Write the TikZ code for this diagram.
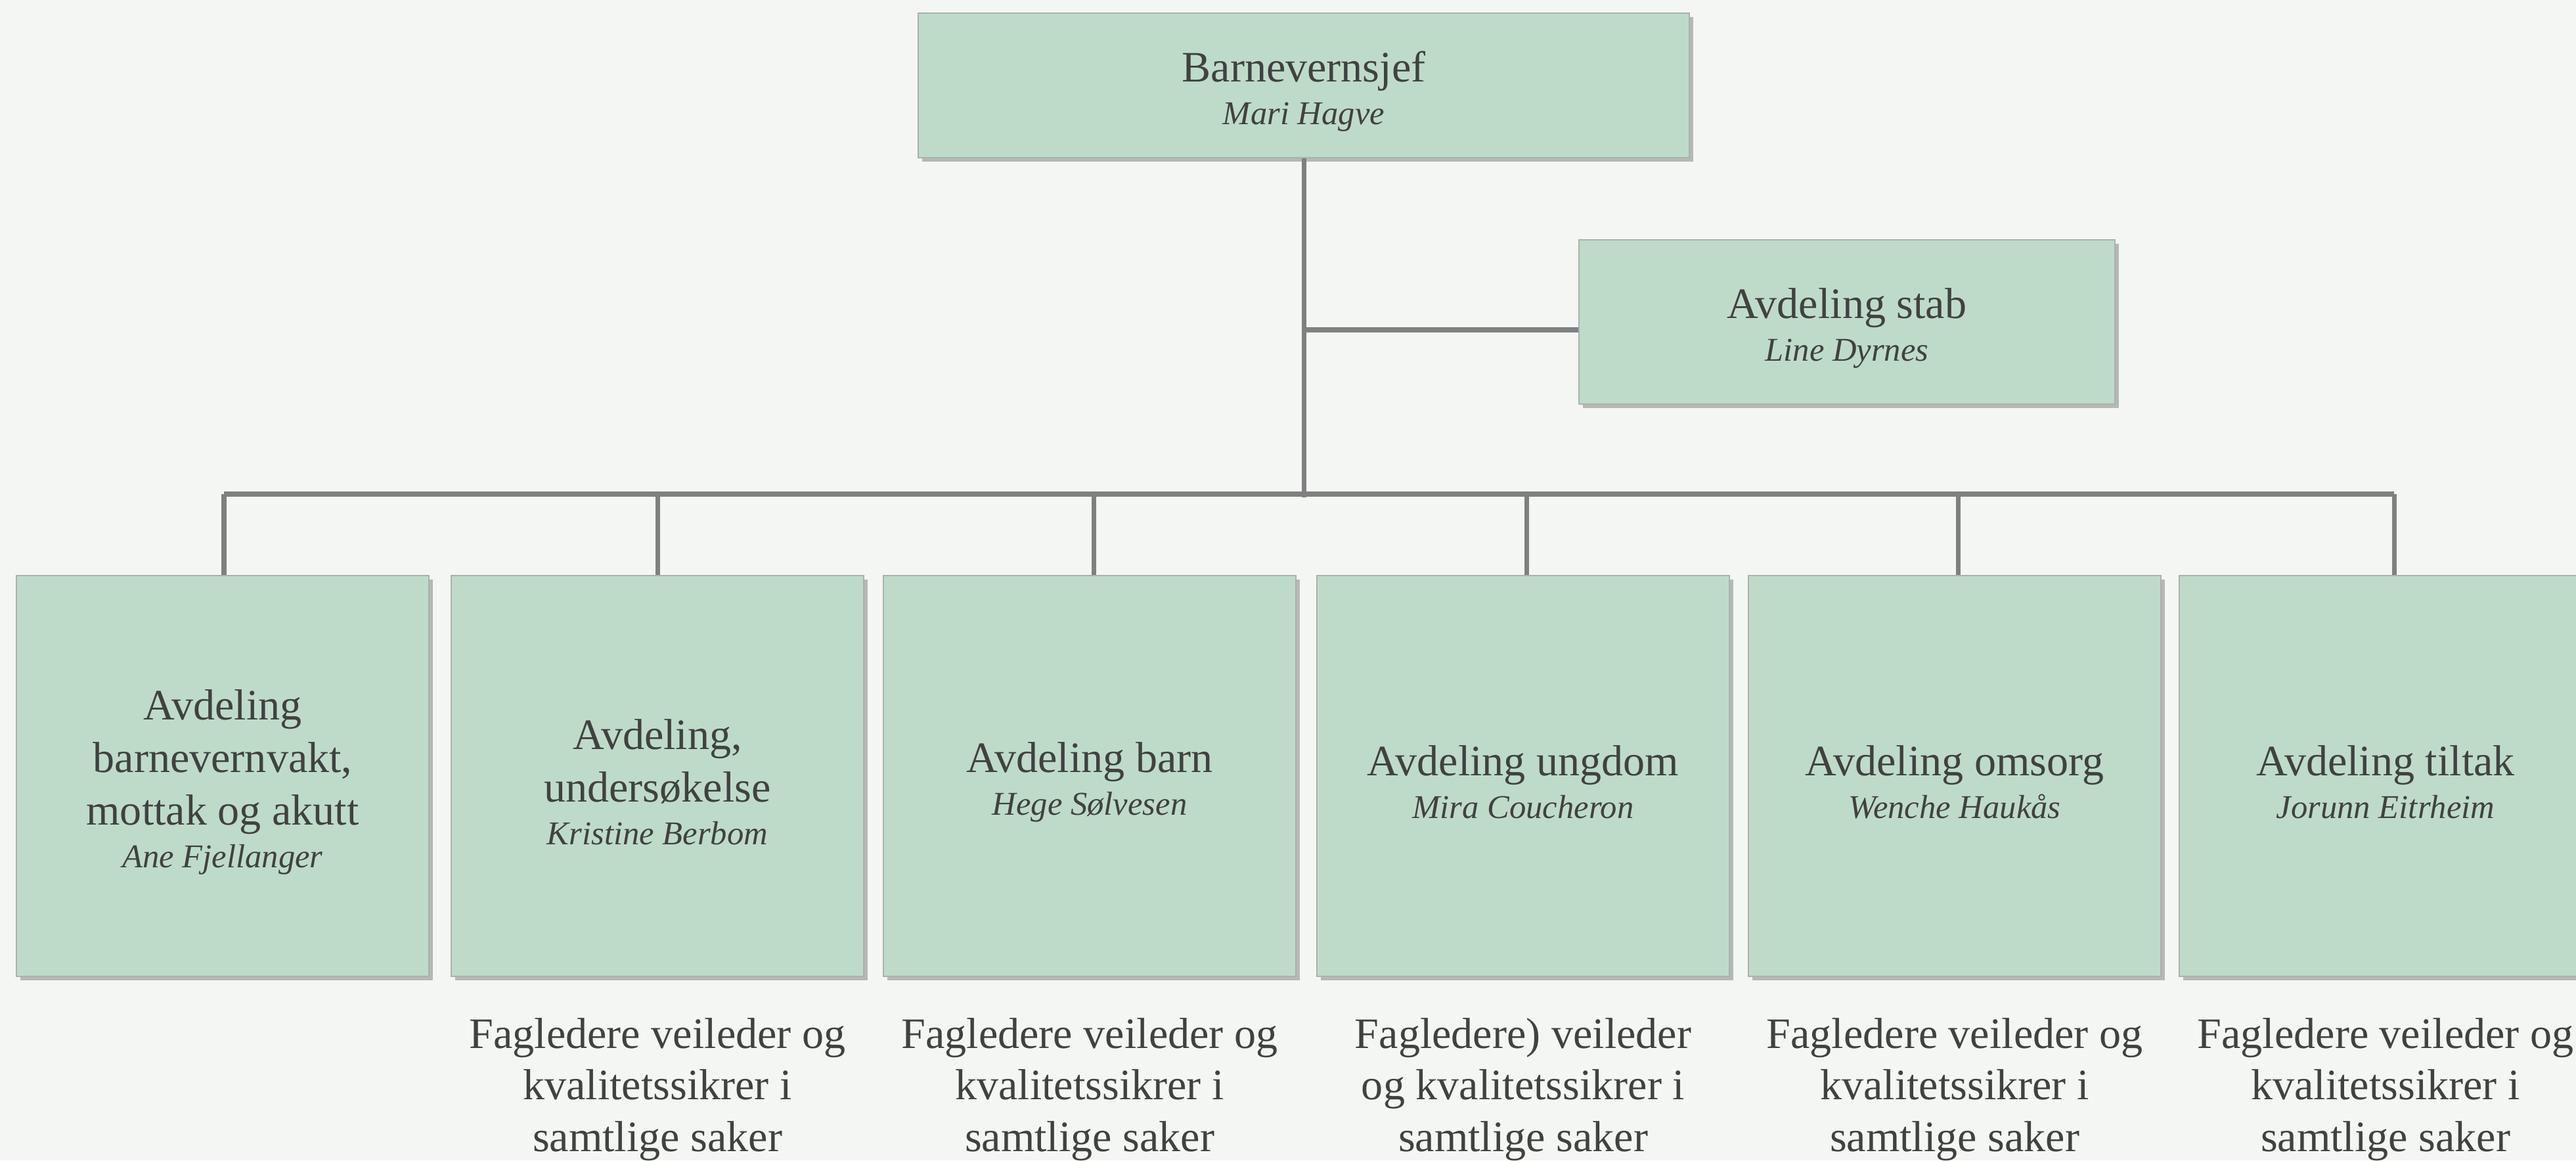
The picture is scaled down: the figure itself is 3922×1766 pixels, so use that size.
\documentclass[tikz,border=0pt]{standalone}
\usepackage{fontspec}
\setmainfont{Liberation Serif}
\usetikzlibrary{calc}
\usetikzlibrary{shadows}

\definecolor{boksgronn}{RGB}{190,219,201}
\definecolor{bakgrunn}{RGB}{244,246,243}
\definecolor{tekstgraa}{RGB}{64,66,64}
\definecolor{linjegraa}{RGB}{128,128,128}
\definecolor{kantgraa}{RGB}{170,178,173}

\tikzset{
    enhet/.style={draw=kantgraa, line width=0.6pt, fill=boksgronn, text=tekstgraa,
        align=center, inner sep=0pt, font=\fontsize{18.8}{22.8}\selectfont,
        drop shadow={shadow xshift=0.6mm, shadow yshift=-0.6mm, fill=black, opacity=0.25}},
    avd/.style={enhet, minimum width=6.28cm, minimum height=6.1cm},
    fag/.style={text=tekstgraa, align=center, font=\fontsize{18.8}{22.4}\selectfont},
    linje/.style={draw=linjegraa, line width=2pt}
}
\newcommand{\topp}{\rule{0pt}{18.5pt}}
\newcommand{\leder}[1]{\\[-4.3pt]{\fontsize{14.4}{17}\selectfont\itshape #1}}

\begin{document}
\begin{tikzpicture}[x=0.01cm, y=-0.01cm]
    \useasboundingbox[fill=bakgrunn] (0,0) rectangle (3922,1766);

    \node[enhet, minimum width=11.73cm, minimum height=2.2cm] (sjef) at (1985,130) {\topp Barnevernsjef\leder{Mari Hagve}};
    \node[enhet, minimum width=8.15cm, minimum height=2.5cm] (stab) at (2812,490) {\topp Avdeling stab\leder{Line Dyrnes}};

    \node[avd] (vakt) at (339,1181) {\topp Avdeling\\barnevernvakt,\\mottak og akutt\leder{Ane Fjellanger}};
    \node[avd] (undersok) at (1001,1181) {\topp Avdeling,\\unders\o kelse\leder{Kristine Berbom}};
    \node[avd] (barn) at (1659,1181) {\topp Avdeling barn\leder{Hege S\o lvesen}};
    \node[avd] (ungdom) at (2319,1181) {\topp Avdeling ungdom\leder{Mira Coucheron}};
    \node[avd] (omsorg) at (2976,1181) {\topp Avdeling omsorg\leder{Wenche Hauk\aa s}};
    \node[avd] (tiltak) at (3632,1181) {\topp Avdeling tiltak\leder{Jorunn Eitrheim}};

    % linjer
    \coordinate (kryss) at (1985,752);
    \coordinate (gren) at (1985,502);
    \draw[linje] (sjef.south) -- ($(kryss)+(0,5)$);
    \draw[linje] (gren) -- (gren -| stab.west);
    \draw[linje] ($(vakt.north |- kryss)+(2,0)$) -- ($(tiltak.north |- kryss)+(13,0)$);
    \foreach \n/\dx in {vakt/2,undersok/0,barn/6,ungdom/5,omsorg/5,tiltak/13}
        \draw[linje] ($(\n.north |- kryss)+(\dx,0)$) -- ($(\n.north)+(\dx,0)$);

    \node[fag] (fagundersok) at (1001,1658) {Fagledere veileder og\\kvalitetssikrer i\\samtlige saker};
    \node[fag] (fagbarn) at (1659,1658) {Fagledere veileder og\\kvalitetssikrer i\\samtlige saker};
    \node[fag] (fagungdom) at (2319,1658) {Fagledere) veileder\\og kvalitetssikrer i\\samtlige saker};
    \node[fag] (fagomsorg) at (2976,1658) {Fagledere veileder og\\kvalitetssikrer i\\samtlige saker};
    \node[fag] (fagtiltak) at (3632,1658) {Fagledere veileder og\\kvalitetssikrer i\\samtlige saker};

\end{tikzpicture}
\end{document}
